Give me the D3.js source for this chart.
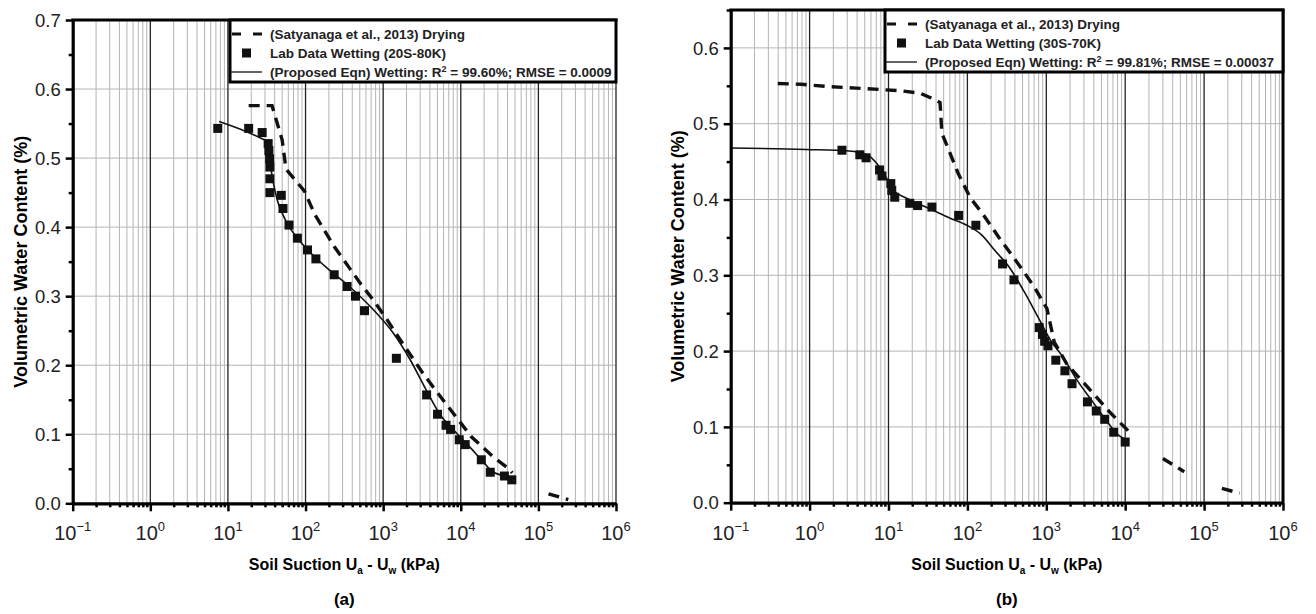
<!DOCTYPE html>
<html>
<head>
<meta charset="utf-8">
<script src="https://cdn.jsdelivr.net/npm/d3@7"></script>
<style>
  body { margin: 0; background: #fff; }
  text { font-family: "Liberation Sans", Arial, sans-serif; }
</style>
</head>
<body>
<svg id="chart" width="1316" height="614"></svg>
<script>
// ---- data (suction in kPa, volumetric water content) ----
var xExponents = [-1, 0, 1, 2, 3, 4, 5, 6];

// panel (a) 20S-80K
var dryA = [[18.5,0.576],[37,0.576],[50,0.526],[56,0.484],[97,0.452],[132,0.418],[234,0.372],
  [367,0.341],[520,0.317],[738,0.295],[1050,0.271],[1480,0.245],[3090,0.192],[4430,0.168],
  [10200,0.115],[13800,0.096],[26300,0.067],[41700,0.050],[46000,0.044],null,
  [135000,0.0138],[243000,0.0054]];
var labA = [[7.4,0.543],[18.5,0.543],[27.6,0.537],[33,0.521],[33.7,0.511],[34.4,0.499],
  [34.7,0.487],[34.7,0.470],[34.7,0.450],[48.7,0.446],[51.2,0.427],[61.2,0.403],[78.5,0.384],
  [106,0.367],[136,0.354],[234,0.331],[343,0.314],[440,0.300],[575,0.279],[1480,0.210],
  [3630,0.157],[5020,0.129],[6460,0.113],[7400,0.107],[9560,0.092],[11400,0.085],
  [18400,0.063],[24000,0.045],[36500,0.0395],[45500,0.034]];
var fitA = [[7.7,0.553],[26.2,0.529],[30.5,0.525],[34.4,0.497],[37.9,0.468],[43.3,0.439],
  [50.1,0.420],[61.2,0.401],[82.6,0.381],[123,0.360],[202,0.338],[367,0.314],[738,0.281],
  [1340,0.247],[2200,0.209],[3630,0.163],[5370,0.129],[8910,0.101],[13200,0.081],
  [19500,0.060],[26300,0.045],[45700,0.038]];
var yTicksA = [0, 0.1, 0.2, 0.3, 0.4, 0.5, 0.6, 0.7];

// panel (b) 30S-70K
var dryB = [[0.395,0.553],[0.78,0.552],[1.70,0.549],[3.9,0.547],[8.1,0.545],[14.4,0.5435],
  [25.4,0.540],[34.7,0.534],[45,0.528],[47.5,0.4875],[76,0.435],[109,0.402],[154,0.382],
  [251,0.350],[493,0.308],[710,0.284],[1020,0.256],[1260,0.212],[1820,0.183],[3050,0.157],
  [6300,0.120],[12400,0.089],null,[30000,0.0584],[56000,0.0409],null,
  [168000,0.019],[282000,0.0125]];
var labB = [[2.57,0.465],[4.33,0.459],[5.2,0.455],[7.7,0.439],[8.26,0.431],[10.7,0.421],
  [11.0,0.412],[12.0,0.403],[18.6,0.395],[23.4,0.392],[35.5,0.390],[77.5,0.379],[128,0.366],
  [279,0.315],[389,0.294],[813,0.231],[893,0.222],[953,0.213],[1050,0.207],[1320,0.188],
  [1720,0.174],[2120,0.157],[3320,0.133],[4300,0.121],[5500,0.110],[7160,0.093],[10000,0.080]];
var fitB = [[0.1,0.468],[0.91,0.466],[3.16,0.464],[5.33,0.459],[7.3,0.446],[9.46,0.428],
  [11.6,0.412],[16.7,0.402],[34.7,0.387],[58.5,0.376],[98.4,0.366],[149,0.354],[226,0.332],
  [343,0.310],[520,0.279],[789,0.2445],[1135,0.214],[1633,0.192],[2477,0.161],[3758,0.135],
  [5702,0.109],[8204,0.089],[10120,0.0834]];
var yTicksB = [0, 0.1, 0.2, 0.3, 0.4, 0.5, 0.6];

var legendA = ["(Satyanaga et al., 2013) Drying", "Lab Data Wetting (20S-80K)",
  ["(Proposed Eqn) Wetting: R", "2", " = 99.60%; RMSE = 0.0009"]];
var legendB = ["(Satyanaga et al., 2013) Drying", "Lab Data Wetting (30S-70K)",
  ["(Proposed Eqn) Wetting: R", "2", " = 99.81%; RMSE = 0.00037"]];

var svg = d3.select("#chart");

function drawPanel(p) {
    var x = d3.scaleLog().domain([0.1, 1e6]).range([p.left, p.right]);
    var y = d3.scaleLinear().domain([0, p.yMax]).range([p.bottom, p.top]);
    var g = svg.append("g");

    var majors = xExponents.map(function (e) { return Math.pow(10, e); });
    var minors = [];
    xExponents.slice(0, -1).forEach(function (e) {
        for (var k = 2; k <= 9; k++) minors.push(k * Math.pow(10, e));
    });
    var yMinors = [];
    for (var v = 0.05; v < p.yMax; v += 0.1) yMinors.push(+v.toFixed(2));

    // grid
    g.selectAll(".vminor").data(minors).enter().append("line")
        .attr("x1", x).attr("x2", x).attr("y1", p.top).attr("y2", p.bottom)
        .attr("stroke", "#b4b4b4").attr("stroke-width", 1);
    g.selectAll(".hgrid").data(p.yTicks).enter().append("line")
        .attr("x1", p.left).attr("x2", p.right).attr("y1", y).attr("y2", y)
        .attr("stroke", "#b4b4b4").attr("stroke-width", 1);
    g.selectAll(".vmajor").data(majors).enter().append("line")
        .attr("x1", x).attr("x2", x).attr("y1", p.top).attr("y2", p.bottom)
        .attr("stroke", "#222").attr("stroke-width", 1.3);

    // drying (dashed)
    var line = d3.line().defined(function (d) { return d != null; })
        .x(function (d) { return x(d[0]); }).y(function (d) { return y(d[1]); });
    g.append("path").datum(p.dry)
        .attr("d", line.curve(d3.curveLinear))
        .attr("fill", "none").attr("stroke", "#111").attr("stroke-width", 3.4)
        .attr("stroke-dasharray", "11,7");

    // fitted equation (solid)
    g.append("path").datum(p.fit)
        .attr("d", line.curve(d3.curveMonotoneX))
        .attr("fill", "none").attr("stroke", "#111").attr("stroke-width", 1.6);

    // lab squares
    g.selectAll(".sq").data(p.lab).enter().append("rect")
        .attr("x", function (d) { return x(d[0]) - 4.5; })
        .attr("y", function (d) { return y(d[1]) - 4.5; })
        .attr("width", 9).attr("height", 9).attr("fill", "#111");

    // axes
    g.append("g").attr("transform", "translate(0," + p.bottom + ")")
        .call(d3.axisBottom(x).tickValues(minors).tickSize(4).tickFormat(""))
        .call(function (a) { a.select(".domain").remove(); a.selectAll("line").attr("stroke-width", 2.5); });
    g.append("g").attr("transform", "translate(0," + p.bottom + ")")
        .call(d3.axisBottom(x).tickValues(majors).tickSizeInner(8).tickSizeOuter(0).tickFormat(""))
        .call(function (a) {
            a.select(".domain").attr("stroke-width", 3.2);
            a.selectAll("line").attr("stroke-width", 2.5);
        });
    g.append("g").attr("transform", "translate(" + p.left + ",0)")
        .call(d3.axisLeft(y).tickValues(yMinors).tickSize(4).tickFormat(""))
        .call(function (a) { a.select(".domain").remove(); a.selectAll("line").attr("stroke-width", 2.5); });
    g.append("g").attr("transform", "translate(" + p.left + ",0)")
        .call(d3.axisLeft(y).tickValues(p.yTicks).tickSizeInner(7).tickSizeOuter(0).tickFormat(""))
        .call(function (a) {
            a.select(".domain").attr("stroke-width", 3.2);
            a.selectAll("line").attr("stroke-width", 2.5);
        });

    // frame
    g.append("line").attr("x1", p.left - 1.5).attr("x2", p.right + 1.5)
        .attr("y1", p.top).attr("y2", p.top).attr("stroke", "#000").attr("stroke-width", 3.2);
    if (p.rightFrame) {
        g.append("line").attr("x1", p.right).attr("x2", p.right)
            .attr("y1", p.top).attr("y2", p.bottom).attr("stroke", "#000").attr("stroke-width", 3);
    }

    // tick labels
    g.selectAll(".ylab").data(p.yTicks).enter().append("text")
        .attr("x", p.left - 12).attr("y", y).attr("dy", "0.36em")
        .attr("text-anchor", "end").attr("font-size", 18.5).attr("fill", "#222")
        .text(function (d) { return d.toFixed(1); });
    var xl = g.selectAll(".xlab").data(xExponents).enter().append("text")
        .attr("x", function (e) { return x(Math.pow(10, e)); }).attr("y", p.bottom + 37)
        .attr("text-anchor", "middle").attr("font-size", 20).attr("fill", "#222");
    xl.append("tspan").text("10");
    xl.append("tspan").attr("dy", -9).attr("font-size", 13)
        .text(function (e) { return e < 0 ? "\u2212" + (-e) : "" + e; });

    // axis titles
    var cx = (p.left + p.right) / 2;
    var xt = g.append("text").attr("x", cx).attr("y", p.bottom + 67)
        .attr("text-anchor", "middle").attr("font-size", 16).attr("font-weight", "bold");
    xt.append("tspan").text("Soil Suction U");
    xt.append("tspan").attr("dy", 4).attr("font-size", 10).text("a");
    xt.append("tspan").attr("dy", -4).text(" - U");
    xt.append("tspan").attr("dy", 4).attr("font-size", 10).text("w");
    xt.append("tspan").attr("dy", -4).text(" (kPa)");

    g.append("text")
        .attr("transform", "translate(" + p.yTitleX + "," + ((p.top + p.bottom) / 2) + ") rotate(-90)")
        .attr("text-anchor", "middle").attr("font-size", 18).attr("font-weight", "bold")
        .text("Volumetric Water Content (%)");

    g.append("text").attr("x", cx).attr("y", 605).attr("text-anchor", "middle")
        .attr("font-family", "Liberation Serif, Times New Roman, serif")
        .attr("font-size", 17).attr("font-weight", "bold").text(p.caption);

    // legend
    var lb = p.legend;
    g.append("rect").attr("x", lb.x0).attr("y", p.top).attr("width", lb.x1 - lb.x0)
        .attr("height", lb.h).attr("fill", "#fff").attr("stroke", "#000").attr("stroke-width", 3);
    var rows = [p.top + 14, p.top + 33, p.top + 52];
    g.append("line").attr("x1", lb.x0 + 2).attr("x2", lb.x0 + 32).attr("y1", rows[0]).attr("y2", rows[0])
        .attr("stroke", "#111").attr("stroke-width", 3.2).attr("stroke-dasharray", "9,12");
    g.append("rect").attr("x", lb.x0 + 12).attr("y", rows[1] - 4.5).attr("width", 9).attr("height", 9)
        .attr("fill", "#111");
    g.append("line").attr("x1", lb.x0 + 1).attr("x2", lb.x0 + 32).attr("y1", rows[2]).attr("y2", rows[2])
        .attr("stroke", "#111").attr("stroke-width", 1.3);
    var tx = lb.x0 + 40;
    [0, 1].forEach(function (i) {
        g.append("text").attr("x", tx).attr("y", rows[i]).attr("dy", "0.36em")
            .attr("font-size", 13.5).attr("font-weight", "bold").attr("fill", "#222")
            .text(p.legendText[i]);
    });
    var t3 = g.append("text").attr("x", tx).attr("y", rows[2]).attr("dy", "0.36em")
        .attr("font-size", 13.5).attr("font-weight", "bold").attr("fill", "#222");
    t3.append("tspan").text(p.legendText[2][0]);
    t3.append("tspan").attr("dy", -5).attr("font-size", 9).text(p.legendText[2][1]);
    t3.append("tspan").attr("dy", 5).text(p.legendText[2][2]);
}

drawPanel({
    left: 72.7, right: 616, top: 20, bottom: 503.3, yMax: 0.7, yTicks: yTicksA,
    dry: dryA, lab: labA, fit: fitA, rightFrame: false,
    yTitleX: 27, caption: "(a)",
    legend: { x0: 230, x1: 616, h: 62 }, legendText: legendA
});
drawPanel({
    left: 730.7, right: 1283, top: 10, bottom: 502.7, yMax: 0.65, yTicks: yTicksB,
    dry: dryB, lab: labB, fit: fitB, rightFrame: true,
    yTitleX: 684, caption: "(b)",
    legend: { x0: 885, x1: 1283, h: 62 }, legendText: legendB
});
</script>
</body>
</html>
